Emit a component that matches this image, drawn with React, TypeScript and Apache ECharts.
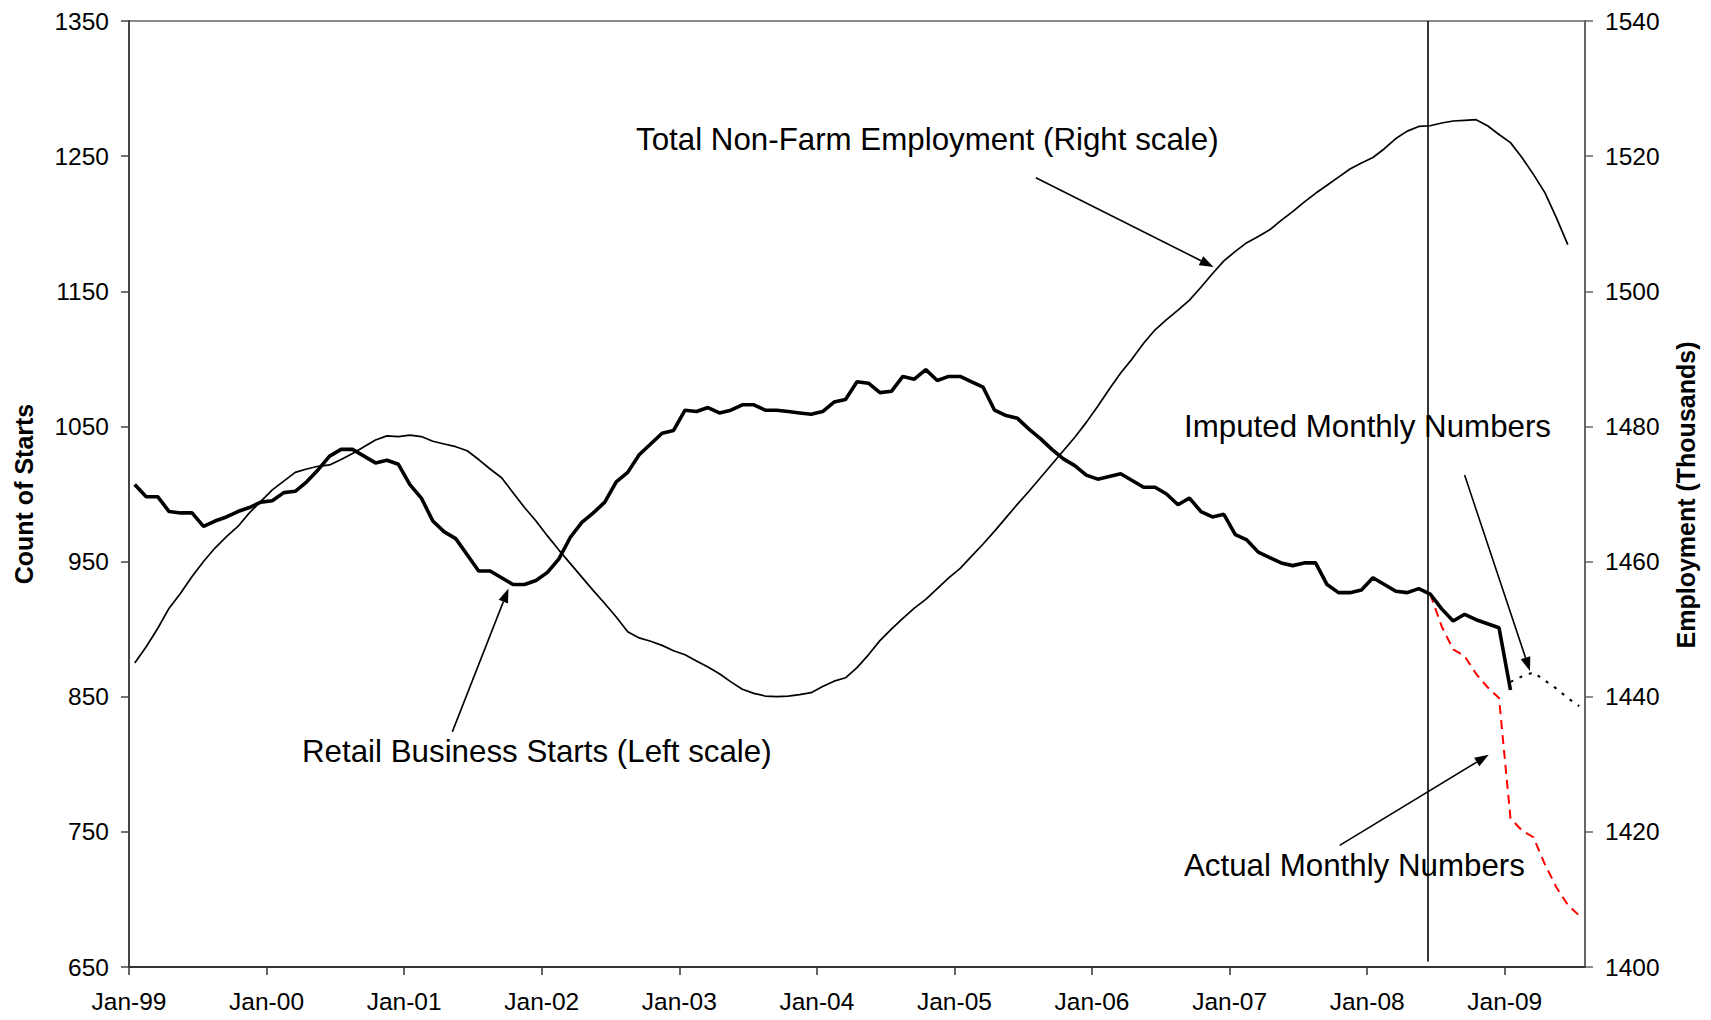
import React, { useEffect, useRef } from 'react';
import * as echarts from 'echarts';

// ---------- DATA ----------
const xTickLabels = ['Jan-99', 'Jan-00', 'Jan-01', 'Jan-02', 'Jan-03', 'Jan-04', 'Jan-05', 'Jan-06', 'Jan-07', 'Jan-08', 'Jan-09'];
const xTickMonths = [0, 12, 24, 36, 48, 60, 72, 84, 96, 108, 120];

// Retail business starts (left scale), monthly Jan-99 .. Jan-09
const retailStarts = [
  1007, 998, 998, 987, 986, 986, 976, 980, 983, 987, 990, 994,
  995, 1001, 1002, 1009, 1018, 1028, 1033, 1033, 1028, 1023, 1025, 1022,
  1007, 997, 980, 972, 967, 955, 943, 943, 938, 933, 933, 936,
  942, 952, 968, 979, 986, 994, 1009, 1016, 1029, 1037, 1045, 1047,
  1062, 1061, 1064, 1060, 1062, 1066, 1066, 1062, 1062, 1061, 1060, 1059,
  1061, 1068, 1070, 1083, 1082, 1075, 1076, 1087, 1085, 1092, 1084, 1087,
  1087, 1083, 1079, 1062, 1058, 1056, 1048, 1041, 1033, 1026, 1021, 1014,
  1011, 1013, 1015, 1010, 1005, 1005, 1000, 992, 997, 987, 983, 985,
  970, 966, 957, 953, 949, 947, 949, 949, 933, 927, 927, 929,
  938, 933, 928, 927, 930, 926, 915, 906, 911, 907, 904, 901,
  855,
];

// Total non-farm employment (right scale, thousands), monthly Jan-99 .. Jun-09
const employment = [
  1445.0, 1447.4, 1450.1, 1453.1, 1455.3, 1457.8, 1460.0, 1462.0, 1463.7, 1465.2, 1467.2, 1468.9,
  1470.6, 1471.9, 1473.2, 1473.7, 1474.1, 1474.3, 1475.1, 1476.0, 1477.0, 1478.0, 1478.6, 1478.5,
  1478.7, 1478.5, 1477.8, 1477.4, 1477.0, 1476.4, 1475.1, 1473.7, 1472.4, 1470.2, 1468.0, 1466.0,
  1463.8, 1461.7, 1459.7, 1457.7, 1455.7, 1453.8, 1451.8, 1449.6, 1448.7, 1448.2, 1447.6, 1446.8,
  1446.2, 1445.3, 1444.4, 1443.4, 1442.2, 1441.1, 1440.5, 1440.1, 1440.0, 1440.1, 1440.3, 1440.6,
  1441.5, 1442.3, 1442.8, 1444.3, 1446.2, 1448.3, 1450.0, 1451.6, 1453.1, 1454.4, 1456.0, 1457.6,
  1459.0, 1460.8, 1462.6, 1464.5, 1466.5, 1468.5, 1470.4, 1472.4, 1474.4, 1476.4, 1478.4, 1480.6,
  1483.0, 1485.5, 1487.9, 1490.0, 1492.3, 1494.3, 1495.8, 1497.2, 1498.7, 1500.6, 1502.6, 1504.5,
  1505.9, 1507.2, 1508.1, 1509.1, 1510.5, 1511.8, 1513.2, 1514.5, 1515.7, 1516.9, 1518.1, 1519.0,
  1519.8, 1521.1, 1522.6, 1523.7, 1524.4, 1524.5, 1524.9, 1525.2, 1525.3, 1525.4, 1524.5, 1523.2,
  1522.0, 1519.8, 1517.3, 1514.6, 1510.9, 1506.9,
];

// Actual monthly numbers (left scale), Jun-08 .. Jul-09
const actualStartMonth = 113;
const actualMonthly = [926, 902, 885, 880, 867, 857, 849, 760, 751, 746, 726, 709, 696, 688];

// Imputed monthly numbers (left scale), Jan-09 .. Jul-09
const imputedStartMonth = 120;
const imputedMonthly = [861, 865, 868, 862, 856, 849, 843];

// Break line (month index, between May-08 and Jun-08 data points)
const breakMonth = 113.3;

// ---------- ANNOTATIONS ----------
const FONT = '"Liberation Sans", Arial, Helvetica, sans-serif';

const arrows = [
  { from: [79.1, 1234], to: [94.6, 1168] },
  { from: [28.2, 824], to: [33.1, 930] },
  { from: [116.5, 1014], to: [122.2, 869] },
  { from: [105.6, 740], to: [118.6, 807] },
];

const notes = [
  { text: 'Total Non-Farm Employment (Right scale)', x: 636, y: 139 },
  { text: 'Retail Business Starts (Left scale)', x: 302, y: 751 },
  { text: 'Imputed Monthly Numbers', x: 1184, y: 426 },
  { text: 'Actual Monthly Numbers', x: 1184, y: 865 },
];

const toPoints = (vals: number[], start: number) => vals.map((v, k) => [start + k + 0.5, v]);

export default function App() {
  const ref = useRef<HTMLDivElement>(null);

  useEffect(() => {
    if (!ref.current) return;
    const chart = echarts.init(ref.current, null, { renderer: 'svg' });

    const axisLabelStyle = { color: '#000', fontSize: 24.5, fontFamily: FONT };

    chart.setOption({
      animation: false,
      backgroundColor: '#fff',
      grid: { left: 129, right: 126, top: 21, bottom: 53, show: true, borderColor: '#8a8a8a', borderWidth: 2 },
      xAxis: {
        type: 'value',
        min: 0,
        max: 127,
        interval: 12,
        axisLine: { show: true, lineStyle: { color: '#333', width: 2 } },
        axisTick: { show: true, length: 8, customValues: xTickMonths, lineStyle: { color: '#333', width: 1.5 } },
        axisLabel: {
          ...axisLabelStyle,
          margin: 22,
          customValues: xTickMonths,
          formatter: (v: number) => (v % 12 === 0 ? xTickLabels[Math.round(v / 12)] ?? '' : ''),
        },
        splitLine: { show: false },
      },
      yAxis: [
        {
          type: 'value',
          min: 650,
          max: 1350,
          interval: 100,
          position: 'left',
          axisLine: { show: true, lineStyle: { color: '#444', width: 2 } },
          axisTick: { show: true, length: 8, lineStyle: { color: '#444', width: 1.5 } },
          axisLabel: { ...axisLabelStyle, margin: 20, formatter: (v: number) => String(v) },
          splitLine: { show: false },
        },
        {
          type: 'value',
          min: 1400,
          max: 1540,
          interval: 20,
          position: 'right',
          axisLine: { show: true, lineStyle: { color: '#666', width: 2 } },
          axisTick: { show: true, length: 8, lineStyle: { color: '#666', width: 1.5 } },
          axisLabel: { ...axisLabelStyle, margin: 20, formatter: (v: number) => String(v) },
          splitLine: { show: false },
        },
      ],
      series: [
        {
          name: 'Total Non-Farm Employment',
          type: 'line',
          yAxisIndex: 1,
          data: toPoints(employment, 0),
          showSymbol: false,
          lineStyle: { color: '#000', width: 1.7 },
          z: 2,
        },
        {
          name: 'Actual Monthly Numbers',
          type: 'line',
          yAxisIndex: 0,
          data: toPoints(actualMonthly, actualStartMonth),
          showSymbol: false,
          lineStyle: { color: '#ff0000', width: 2, type: [9, 6] },
          z: 3,
        },
        {
          name: 'Imputed Monthly Numbers',
          type: 'line',
          yAxisIndex: 0,
          data: toPoints(imputedMonthly, imputedStartMonth),
          showSymbol: false,
          lineStyle: { color: '#000', width: 2, type: [3, 7] },
          z: 3,
        },
        {
          name: 'Retail Business Starts',
          type: 'line',
          yAxisIndex: 0,
          data: toPoints(retailStarts, 0),
          showSymbol: false,
          lineStyle: { color: '#000', width: 3.6 },
          z: 4,
          markLine: {
            silent: true,
            symbol: ['none', 'none'],
            label: { show: false },
            lineStyle: { color: '#000', width: 1.6, type: 'solid' },
            data: [[{ coord: [breakMonth, 1350] }, { coord: [breakMonth, 654] }]],
          },
        },
      ],
    });

    const graphics: any[] = [];
    arrows.forEach((a) => {
      const s = chart.convertToPixel({ xAxisIndex: 0, yAxisIndex: 0 }, a.from) as number[];
      const t = chart.convertToPixel({ xAxisIndex: 0, yAxisIndex: 0 }, a.to) as number[];
      const dx = t[0] - s[0];
      const dy = t[1] - s[1];
      const len = Math.sqrt(dx * dx + dy * dy);
      const ux = dx / len;
      const uy = dy / len;
      const L = 14;
      const W = 5;
      const bx = t[0] - ux * L;
      const by = t[1] - uy * L;
      const nx = -uy;
      const ny = ux;
      graphics.push({
        type: 'line',
        shape: { x1: s[0], y1: s[1], x2: bx, y2: by },
        style: { stroke: '#000', lineWidth: 1.6 },
        z: 10,
      });
      graphics.push({
        type: 'polygon',
        shape: { points: [[t[0], t[1]], [bx + nx * W, by + ny * W], [bx - nx * W, by - ny * W]] },
        style: { fill: '#000' },
        z: 10,
      });
    });
    notes.forEach((n) => {
      graphics.push({
        type: 'text',
        x: n.x,
        y: n.y,
        style: { text: n.text, fontSize: 31.3, fontFamily: FONT, fill: '#000', align: 'left', verticalAlign: 'middle' },
        z: 11,
      });
    });
    graphics.push({
      type: 'text',
      x: 24,
      y: 494,
      rotation: Math.PI / 2,
      style: { text: 'Count of Starts', fontSize: 25, fontWeight: 'bold', fontFamily: FONT, fill: '#000', align: 'center', verticalAlign: 'middle' },
      z: 11,
    });
    graphics.push({
      type: 'text',
      x: 1686,
      y: 495,
      rotation: Math.PI / 2,
      style: { text: 'Employment (Thousands)', fontSize: 25, fontWeight: 'bold', fontFamily: FONT, fill: '#000', align: 'center', verticalAlign: 'middle' },
      z: 11,
    });
    chart.setOption({ graphic: graphics });

    return () => chart.dispose();
  }, []);

  return <div ref={ref} style={{ position: 'absolute', left: 0, top: 0, width: 1711, height: 1020 }} />;
}
